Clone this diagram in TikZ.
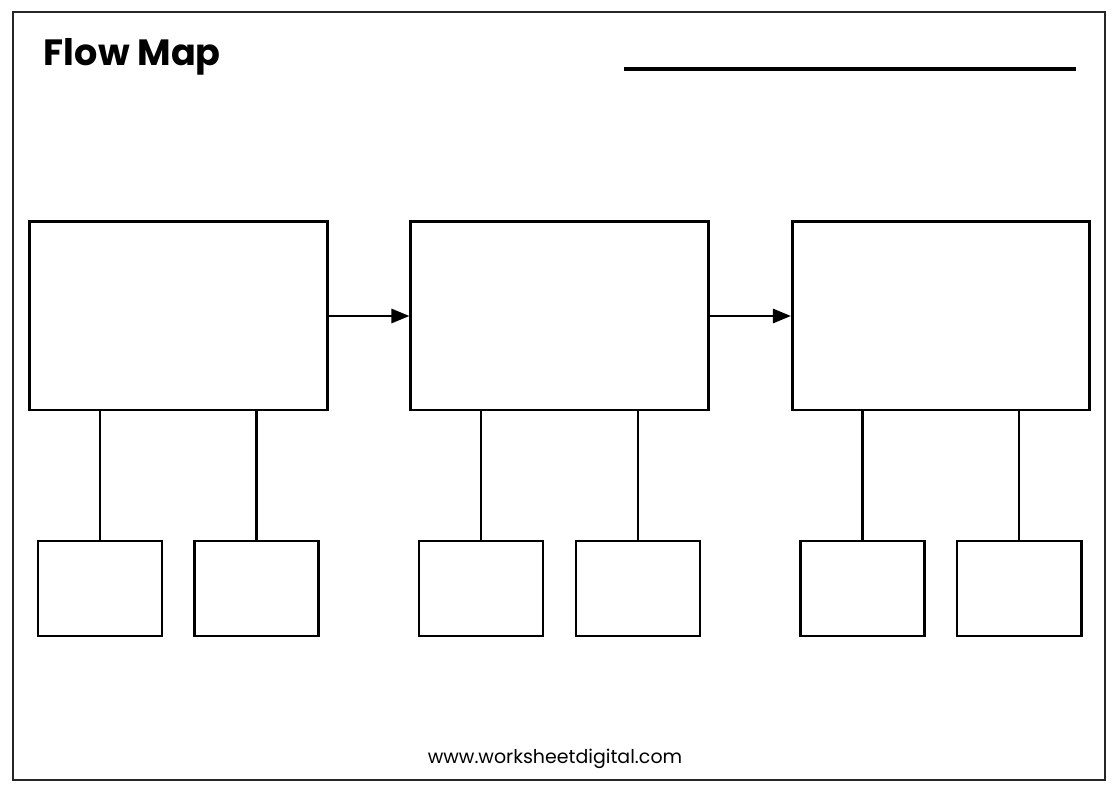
\documentclass[tikz,border=0pt]{standalone}
\usepackage{fontspec}
\setmainfont{Poppins}
\usetikzlibrary{positioning,calc,arrows.meta}

\begin{document}
\begin{tikzpicture}[
    x=0.025cm, y=-0.025cm,
    bigbox/.style={draw, line width=2.1pt, inner sep=0pt, minimum width=7.425cm, minimum height=4.7cm},
    smallbox/.style={draw, line width=2.1pt, inner sep=0pt, minimum width=3.1cm, minimum height=2.375cm},
    arrow/.style={-{Triangle[length=0.45cm,width=0.35cm]}, line width=2pt},
    link/.style={line width=2pt},
    title/.style={font=\fontsize{26}{30}\selectfont\bfseries, anchor=base west},
    footer/.style={font=\fontsize{13.5}{16}\selectfont}
]
    \useasboundingbox (0,0) rectangle (1120,793);

    % Frame
    \draw[line width=1pt, black!85] (13,12) rectangle (1105,780);

    % Title and name line
    \node[title] (head) at (39,66) {Flow Map};
    \draw[line width=2.2pt] (624,69) -- (1076,69);

    % Main boxes
    \node[bigbox] (step1) at (178.5,316) {};
    \node[bigbox] (step2) at (559.5,316) {};
    \node[bigbox] (step3) at (941,316) {};

    % Sub boxes
    \node[smallbox] (sub1a) at (100,588.5) {};
    \node[smallbox] (sub1b) at (256.5,588.5) {};
    \node[smallbox] (sub2a) at (481,588.5) {};
    \node[smallbox] (sub2b) at (638,588.5) {};
    \node[smallbox] (sub3a) at (862.5,588.5) {};
    \node[smallbox] (sub3b) at (1019,588.5) {};

    % Arrows
    \draw[arrow] (step1) -- (step2);
    \draw[arrow] (step2) -- (step3);

    % Links down
    \draw[link] (sub1a.north |- step1.south) -- (sub1a.north);
    \draw[link] (sub1b.north |- step1.south) -- (sub1b.north);
    \draw[link] (sub2a.north |- step2.south) -- (sub2a.north);
    \draw[link] (sub2b.north |- step2.south) -- (sub2b.north);
    \draw[link] (sub3a.north |- step3.south) -- (sub3a.north);
    \draw[link] (sub3b.north |- step3.south) -- (sub3b.north);

    % Footer
    \node[footer] (site) at (555,759) {www.worksheetdigital.com};
\end{tikzpicture}
\end{document}
